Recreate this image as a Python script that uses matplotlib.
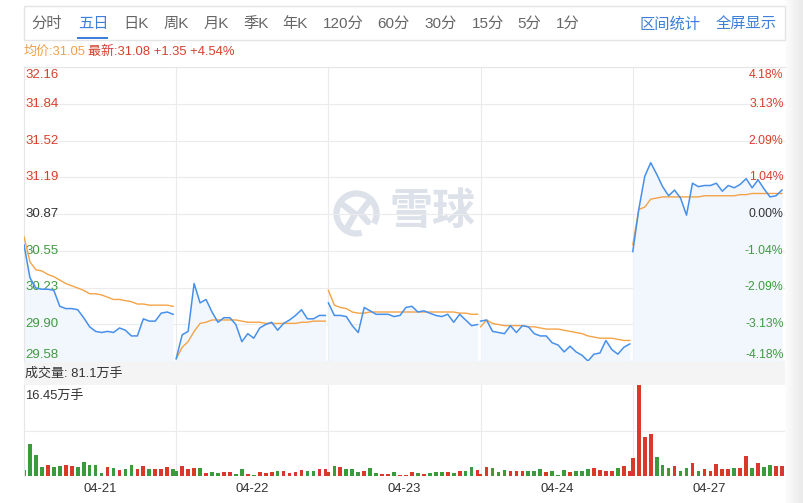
import numpy as np
import matplotlib.pyplot as plt
from matplotlib.patches import Rectangle, Arc

plt.rcParams['font.family'] = ['Liberation Sans', 'Noto Sans CJK SC', 'DejaVu Sans']

# ---- data (26 samples per day) ----
days = ["04-21", "04-22", "04-23", "04-24", "04-27"]

price_0421 = [30.60, 30.31, 30.22, 30.21, 30.21, 30.20, 30.06, 30.04, 30.04, 30.03, 29.96, 29.88, 29.84,
              29.83, 29.84, 29.83, 29.87, 29.85, 29.80, 29.80, 29.95, 29.93, 29.93, 30.00, 30.01, 29.99]
price_0422 = [29.60, 29.81, 29.84, 30.26, 30.09, 30.12, 30.01, 29.92, 29.96, 29.96, 29.90, 29.75, 29.82,
              29.78, 29.87, 29.90, 29.92, 29.85, 29.91, 29.94, 29.98, 30.03, 29.95, 29.95, 29.98, 29.98]
price_0423 = [30.09, 29.98, 29.98, 29.97, 29.89, 29.83, 30.05, 30.02, 29.99, 29.99, 29.99, 29.97, 29.98,
              30.05, 30.06, 30.01, 30.02, 30.00, 29.98, 29.97, 29.99, 29.92, 29.99, 29.94, 29.89, 29.90]
price_0424 = [29.93, 29.94, 29.84, 29.83, 29.82, 29.89, 29.83, 29.89, 29.88, 29.82, 29.80, 29.80, 29.74,
              29.72, 29.66, 29.71, 29.66, 29.63, 29.58, 29.64, 29.65, 29.76, 29.68, 29.64, 29.70, 29.73]
price_0427 = [30.54, 30.91, 31.20, 31.32, 31.22, 31.11, 31.03, 31.08, 31.01, 30.86, 31.14, 31.11, 31.12,
              31.12, 31.14, 31.07, 31.12, 31.10, 31.13, 31.18, 31.10, 31.17, 31.09, 31.02, 31.03, 31.08]

avg_0421 = [30.67, 30.45, 30.38, 30.37, 30.34, 30.32, 30.29, 30.26, 30.24, 30.22, 30.20, 30.17, 30.17,
            30.16, 30.14, 30.12, 30.12, 30.11, 30.10, 30.08, 30.08, 30.07, 30.07, 30.07, 30.07, 30.06]
avg_0422 = [29.60, 29.70, 29.75, 29.84, 29.91, 29.92, 29.94, 29.94, 29.94, 29.94, 29.94, 29.93, 29.92,
            29.92, 29.92, 29.91, 29.91, 29.91, 29.91, 29.91, 29.91, 29.92, 29.92, 29.93, 29.93, 29.93]
avg_0423 = [30.20, 30.07, 30.05, 30.04, 30.01, 30.00, 30.00, 30.01, 30.01, 30.01, 30.01, 30.01, 30.01,
            30.01, 30.01, 30.01, 30.01, 30.01, 30.01, 30.01, 30.01, 30.01, 30.00, 30.00, 29.99, 29.99]
avg_0424 = [29.88, 29.94, 29.91, 29.90, 29.89, 29.89, 29.89, 29.89, 29.88, 29.88, 29.87, 29.86, 29.86,
            29.86, 29.85, 29.84, 29.83, 29.82, 29.80, 29.79, 29.78, 29.78, 29.78, 29.77, 29.76, 29.76]
avg_0427 = [30.60, 30.91, 30.93, 31.00, 31.01, 31.02, 31.02, 31.02, 31.02, 31.02, 31.02, 31.02, 31.03,
            31.03, 31.03, 31.03, 31.03, 31.03, 31.04, 31.04, 31.05, 31.05, 31.05, 31.05, 31.05, 31.05]

# volume in 万手, and R = up (red) / G = down (green)
vol_0421 = [1.08, 5.73, 3.80, 1.68, 1.93, 1.68, 1.81, 1.99, 1.81, 1.57, 2.48, 1.99, 1.93,
            0.49, 1.57, 1.50, 1.08, 1.21, 1.93, 1.21, 1.81, 1.21, 1.32, 1.32, 1.57, 1.21]
vol_0422 = [0.96, 1.81, 1.27, 1.50, 1.36, 0.54, 0.81, 0.49, 0.67, 0.67, 0.36, 1.30, 0.36,
            0.27, 0.81, 0.63, 0.67, 0.87, 0.96, 0.49, 0.67, 1.03, 0.96, 0.85, 1.30, 1.30]
vol_0423 = [0.78, 1.86, 1.68, 1.21, 1.27, 0.78, 0.90, 1.50, 0.49, 0.36, 0.31, 0.67, 0.24,
            0.18, 0.78, 0.49, 0.36, 0.49, 0.72, 0.67, 0.67, 0.54, 0.85, 0.85, 1.57, 1.08]
vol_0424 = [0.36, 1.68, 1.50, 0.78, 1.08, 0.85, 0.85, 0.85, 0.85, 0.85, 1.21, 0.67, 0.96,
            0.24, 1.08, 0.72, 0.90, 0.90, 1.21, 1.45, 1.08, 0.90, 0.90, 1.50, 1.86, 0.96]
vol_0427 = [3.20, 16.45, 7.00, 7.54, 3.38, 1.99, 1.50, 1.81, 0.96, 1.50, 2.30, 0.90, 1.27,
            0.90, 2.12, 1.27, 1.27, 1.50, 1.39, 3.62, 1.39, 2.30, 1.68, 1.99, 1.81, 1.81]
dir_0421 = "GGGGRGGRRGGGGGRGRGGRRGRRRG"
dir_0422 = "GRRRGRGGRRGGRGRRRGRRRRGGRR"
dir_0423 = "RGRGGGRGGRRGRRRGRGGGRGRGGR"
dir_0424 = "RRGGGRRRGGGRGGGRGGGRRRRGRR"
dir_0427 = "RRRRGGGRGGRGRRRRRGRRGRGGRR"

price_ticks = ["32.16", "31.84", "31.52", "31.19", "30.87", "30.55", "30.23", "29.90", "29.58"]
pct_ticks = ["4.18%", "3.13%", "2.09%", "1.04%", "0.00%", "-1.04%", "-2.09%", "-3.13%", "-4.18%"]
p_low, p_high, p_base = 29.58, 32.16, 30.87
vol_max = 16.45

tabs = ["分时", "五日", "日K", "周K", "月K", "季K", "年K", "120分", "60分", "30分", "15分", "5分", "1分"]
tab_x = [47, 93, 136, 176, 216, 256, 295, 343, 393, 441, 488, 529, 568]

prices = [price_0421, price_0422, price_0423, price_0424, price_0427]
avgs = [avg_0421, avg_0422, avg_0423, avg_0424, avg_0427]
vols = [vol_0421, vol_0422, vol_0423, vol_0424, vol_0427]
dirs = [dir_0421, dir_0422, dir_0423, dir_0424, dir_0427]

# ---- colours ----
BLUE_TXT = '#3d7fd9'
RED = '#d6402c'
GREEN = '#3f9b3f'
LINE_BLUE = '#4690ec'
LINE_ORANGE = '#f4a347'
GRID = '#ebebeb'

W, H = 804, 503


def box(x0, y0, x1, y1):
    return [x0 / W, 1 - y1 / H, (x1 - x0) / W, (y1 - y0) / H]


fig = plt.figure(figsize=(W / 100, H / 100), dpi=100)

# background layer in pixel coordinates
bg = fig.add_axes([0, 0, 1, 1], zorder=0)
bg.set_xlim(0, W)
bg.set_ylim(H, 0)
bg.axis('off')

grad = np.linspace(0.99, 0.91, 40)[None, :]
bg.imshow(grad, extent=(785, W, H, 0), aspect='auto', cmap='gray', vmin=0, vmax=1, zorder=0)

# toolbar
bg.add_patch(Rectangle((24, 6), 761, 34, facecolor='white', edgecolor='#e4e4e4', lw=1))
for name, x in zip(tabs, tab_x):
    bg.text(x, 24, name, ha='center', va='center', fontsize=11,
            color=BLUE_TXT if name == "五日" else '#666666')
bg.add_patch(Rectangle((77, 37), 31, 2.2, facecolor=BLUE_TXT, lw=0))
bg.text(670, 24, "区间统计", ha='center', va='center', fontsize=11, color=BLUE_TXT)
bg.text(746, 24, "全屏显示", ha='center', va='center', fontsize=11, color=BLUE_TXT)

bg.text(24, 52, "均价:31.05", ha='left', va='center', fontsize=9.4, color='#f0a04b')
bg.text(88, 52, "最新:31.08 +1.35 +4.54%", ha='left', va='center', fontsize=9.4, color=RED)

# volume header strip
bg.add_patch(Rectangle((24, 361), 761, 24, facecolor='#f4f4f5', lw=0))
bg.text(25, 374, "成交量: 81.1万手", ha='left', va='center', fontsize=9.4, color='#333333')
bg.text(25, 397, "16.45万手", ha='left', va='center', fontsize=9.4, color='#333333')

# watermark
wm = '#dde2ea'
bg.add_patch(Arc((356.5, 213.5), 40, 40, theta1=75, theta2=30, lw=4.5, color=wm))
bg.plot([342, 355, 347], [204, 214, 228], color=wm, lw=4.5, solid_capstyle='round')
bg.plot([370, 360, 368], [200, 213, 222], color=wm, lw=4.5, solid_capstyle='round')
bg.text(432, 213, "雪球", ha='center', va='center', fontsize=31, fontweight='bold', color=wm)

# ---- price panel ----
ax = fig.add_axes(box(24, 67, 785, 361), zorder=1)
ax.set_facecolor('none')
ax.set_xlim(0, 5)
ax.set_ylim(p_low, p_high)
levels = np.linspace(p_high, p_low, len(price_ticks))
for v in levels:
    ax.axhline(v, color=GRID, lw=0.8, zorder=0)
for d in range(1, 5):
    ax.axvline(d, color=GRID, lw=0.8, zorder=0)

n = len(price_0421)
step = 0.98 / (n - 1)
for d in range(5):
    xd = d + np.arange(n) * step
    ax.fill_between(xd, prices[d], p_low, color='#f2f6fd', lw=0, zorder=1)
    ax.plot(xd, avgs[d], color=LINE_ORANGE, lw=1.0, zorder=3)
    ax.plot(xd, prices[d], color=LINE_BLUE, lw=1.1, zorder=4)

for k, (v, lab, pct) in enumerate(zip(levels, price_ticks, pct_ticks)):
    if v > p_base + 1e-6:
        col = RED
    elif v < p_base - 1e-6:
        col = GREEN
    else:
        col = '#333333'
    dy = -5.8 if k == 0 else (4.3 if k == len(levels) - 1 else 0)
    ax.annotate(lab, (0, v), xycoords=('axes fraction', 'data'), xytext=(1, dy),
                textcoords='offset points', ha='left', va='center', fontsize=9.5, color=col, zorder=2)
    ax.annotate(pct, (1, v), xycoords=('axes fraction', 'data'), xytext=(-1, dy),
                textcoords='offset points', ha='right', va='center', fontsize=8.8, color=col, zorder=2)

ax.set_xticks([])
ax.set_yticks([])
for s in ['right', 'bottom']:
    ax.spines[s].set_visible(False)
for s in ['top', 'left']:
    ax.spines[s].set_color('#e6e6e6')
    ax.spines[s].set_linewidth(0.8)

# ---- volume panel ----
vax = fig.add_axes(box(24, 385, 785, 476), zorder=1)
vax.set_facecolor('none')
vax.set_xlim(0, 5)
vax.set_ylim(0, vol_max)
vax.axhline(vol_max / 2, color=GRID, lw=0.8, zorder=0)
for d in range(1, 5):
    vax.axvline(d, color=GRID, lw=0.8, zorder=0)
for d in range(5):
    xd = d + np.arange(n) * step
    cols = ['#d8392b' if c == 'R' else '#3b9a3b' for c in dirs[d]]
    vax.bar(xd, vols[d], width=step * 0.62, color=cols, lw=0, zorder=2)

vax.set_xticks(np.arange(5) + 0.5)
vax.set_xticklabels(days)
vax.tick_params(axis='x', length=0, pad=5, labelsize=9.4, labelcolor='#333333')
vax.set_yticks([])
for s in ['right', 'bottom', 'top']:
    vax.spines[s].set_visible(False)
vax.spines['left'].set_color('#e6e6e6')
vax.spines['left'].set_linewidth(0.8)

fig.savefig('out.png', dpi=100)
